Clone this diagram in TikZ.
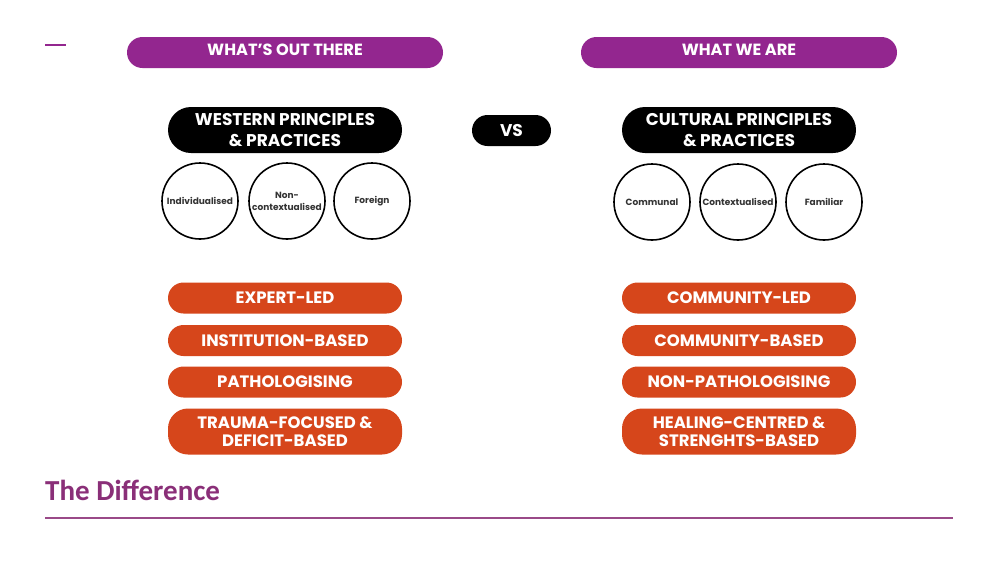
\documentclass[tikz,border=0pt]{standalone}
\usepackage{fontspec}
\setmainfont{Poppins}
\newfontfamily\titlefont{Carlito}
\usetikzlibrary{positioning}
\definecolor{pillpurple}{HTML}{93268F}
\definecolor{pillorange}{HTML}{D6461B}
\definecolor{titlepurple}{HTML}{8A2F78}
\definecolor{linepurple}{HTML}{9A4A88}
\tikzset{
  toppill/.style={fill=pillpurple, draw=none, rounded corners=15.5pt, minimum width=316pt, minimum height=31pt, inner sep=0pt},
  toptext/.style={text=white, font=\fontsize{16.2}{18}\selectfont\bfseries, inner sep=0pt},
  blackpill/.style={fill=black, draw=none, rounded corners=23pt, minimum width=234pt, minimum height=46pt, text=white, font=\fontsize{17}{21}\selectfont\bfseries, align=center, inner sep=0pt},
  vspill/.style={fill=black, draw=none, rounded corners=15.5pt, minimum width=79pt, minimum height=31pt, text=white, font=\fontsize{17}{18}\selectfont\bfseries, inner sep=0pt},
  circ/.style={circle, draw=black, line width=1.6pt, fill=white, minimum size=76pt, inner sep=0pt, align=center, font=\fontsize{9}{12}\selectfont\bfseries, text=black!80},
  orangepill/.style={fill=pillorange, draw=none, rounded corners=15.5pt, minimum width=234pt, minimum height=31pt, text=white, font=\fontsize{16.5}{18}\selectfont\bfseries, align=center, inner sep=0pt},
  orangepilltwo/.style={orangepill, rounded corners=20pt, minimum height=46pt, font=\fontsize{16.5}{17.5}\selectfont\bfseries},
}
\begin{document}
\begin{tikzpicture}[x=1pt,y=-1pt]
\useasboundingbox[fill=white] (0,0) rectangle (1000,563);
% small dash
\coordinate (d1) at (45,45);
\coordinate (d2) at (66,45);
\draw[pillpurple, line width=2pt] (d1) -- (d2);
% top pills
\node[toppill] (out) at (285,52.5) {};
\node[toptext] (outtext) at (285,50) {WHAT'S OUT THERE};
\node[toppill] (we) at (739,52.5) {};
\node[toptext] (wetext) at (739,50) {WHAT WE ARE};
% black pills
\node[blackpill] (west) at (285,130) {WESTERN PRINCIPLES\\ \& PRACTICES};
\node[vspill] (vs) at (511.5,130.5) {VS};
\node[blackpill] (cult) at (739,130) {CULTURAL PRINCIPLES\\ \& PRACTICES};
% circles
\node[circ] (c1) at (200,201) {Individualised};
\node[circ] (c2) at (287,201) {Non-\\contextualised};
\node[circ] (c3) at (372,201) {Foreign};
\node[circ] (c4) at (652,202) {Communal};
\node[circ] (c5) at (738,202) {Contextualised};
\node[circ] (c6) at (824,202) {Familiar};
% orange pills left
\node[orangepill] (l1) at (285,298) {EXPERT-LED};
\node[orangepill] (l2) at (285,340.5) {INSTITUTION-BASED};
\node[orangepill] (l3) at (285,382) {PATHOLOGISING};
\node[orangepilltwo] (l4) at (285,431.5) {TRAUMA-FOCUSED \&\\DEFICIT-BASED};
% orange pills right
\node[orangepill] (r1) at (739,298) {COMMUNITY-LED};
\node[orangepill] (r2) at (739,340.5) {COMMUNITY-BASED};
\node[orangepill] (r3) at (739,382) {NON-PATHOLOGISING};
\node[orangepilltwo] (r4) at (739,431.5) {HEALING-CENTRED \&\\STRENGHTS-BASED};
% title
\node[anchor=base west, inner sep=0pt, text=titlepurple, font=\titlefont\fontsize{29}{32}\selectfont\bfseries] (title) at (45,500) {The Difference};
\coordinate (la) at (45,518);
\coordinate (lb) at (953,518);
\draw[linepurple, line width=2pt] (la) -- (lb);
\end{tikzpicture}
\end{document}
